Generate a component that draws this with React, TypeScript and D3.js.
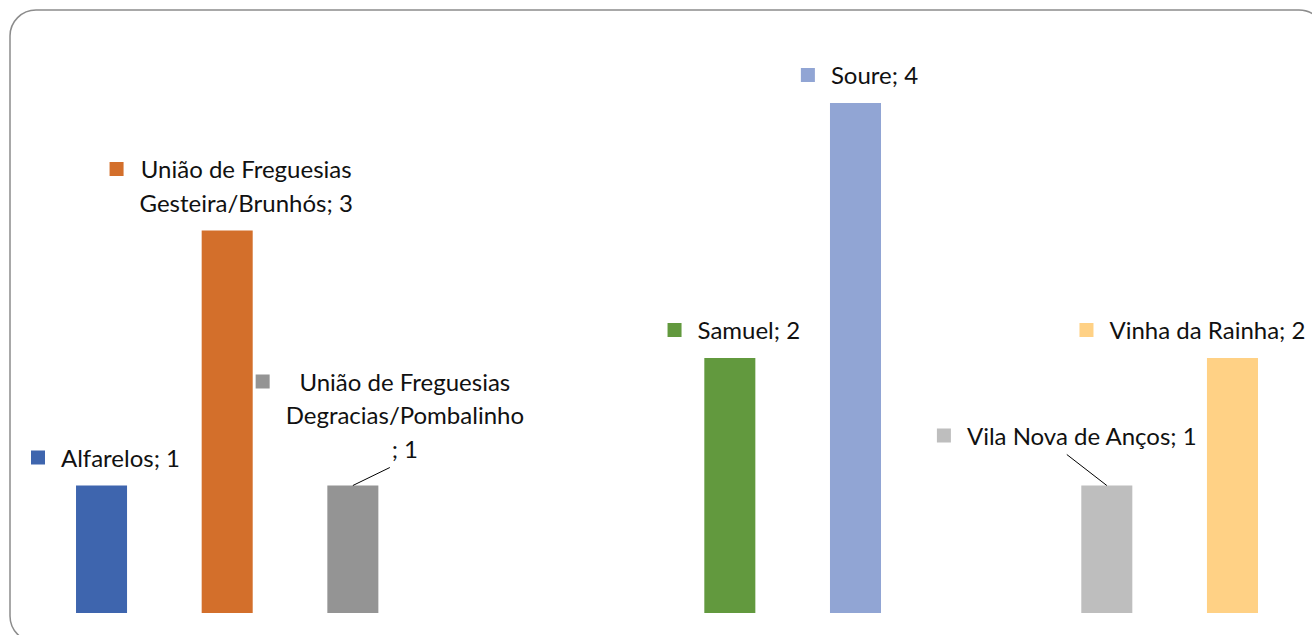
import { useEffect, useRef } from "react";
import * as d3 from "d3";

// chart data (empty slots are categories without a value)
const nameLines: string[][] = [
  ["Alfarelos"],
  ["União de Freguesias", "Gesteira/Brunhós"],
  ["União de Freguesias", "Degracias/Pombalinho", ""],
  [],
  [],
  ["Samuel"],
  ["Soure"],
  [],
  ["Vila Nova de Anços"],
  ["Vinha da Rainha"],
];
const values: (number | null)[] = [1, 3, 1, null, null, 2, 4, null, 1, 2];
const colors = [
  "#3E65AE",
  "#D36F2B",
  "#949494",
  "#cccccc",
  "#cccccc",
  "#62993E",
  "#91A5D4",
  "#cccccc",
  "#BEBEBE",
  "#FFD185",
];

// labels that were moved away from their default spot
const labelNudge: Record<number, { dx: number; dy: number; leader: boolean }> = {
  2: { dx: 33, dy: -9, leader: true },
  8: { dx: -44, dy: -22, leader: true },
  9: { dx: -44, dy: 0, leader: false },
};

const W = 1312;
const H = 635;

export default function App() {
  const ref = useRef<SVGSVGElement>(null);

  useEffect(() => {
    const svg = d3.select(ref.current);
    svg.selectAll("*").remove();

    svg
      .append("rect")
      .attr("x", 10)
      .attr("y", 10)
      .attr("width", 1315)
      .attr("height", 632)
      .attr("rx", 26)
      .attr("fill", "#fff")
      .attr("stroke", "#8c8c8c")
      .attr("stroke-width", 1.5);

    const x = d3
      .scaleBand<number>()
      .domain(d3.range(values.length))
      .range([38.7, 1295.3])
      .paddingInner(0.594)
      .paddingOuter(0.297);
    const y = d3.scaleLinear().domain([0, 4]).range([613, 103]);

    const idx = d3.range(values.length).filter((i) => values[i] != null);

    svg
      .append("g")
      .selectAll("rect")
      .data(idx)
      .enter()
      .append("rect")
      .attr("x", (i) => x(i)!)
      .attr("y", (i) => y(values[i]!))
      .attr("width", x.bandwidth())
      .attr("height", (i) => y(0) - y(values[i]!))
      .attr("fill", (i) => colors[i]);

    const lh = 33.5;
    const gap = 16;
    const key = 14;
    const labels = svg
      .append("g")
      .style("font-family", "Lato, 'Noto Sans', sans-serif")
      .style("font-size", "24px")
      .attr("fill", "#111");

    idx.forEach((i) => {
      const v = values[i]!;
      const lines = nameLines[i].slice();
      const last = lines.length - 1;
      lines[last] = lines[last] ? `${lines[last]}; ${v}` : `; ${v}`;
      const nudge = labelNudge[i] || { dx: 0, dy: 0, leader: false };
      const cxBar = x(i)! + x.bandwidth() / 2;
      const top = y(v);
      const lastBase = top - 19 + nudge.dy;
      const firstBase = lastBase - (lines.length - 1) * lh;
      const cx = cxBar + 4 + nudge.dx;
      const tc = cx + (key + gap) / 2;

      const g = labels.append("g");
      const texts = g
        .selectAll("text")
        .data(lines)
        .enter()
        .append("text")
        .attr("x", tc)
        .attr("y", (_, k) => firstBase + k * lh)
        .attr("text-anchor", "middle")
        .text((d) => d);
      let tw = 0;
      texts.each(function () {
        tw = Math.max(tw, (this as SVGTextElement).getComputedTextLength());
      });
      g.append("rect")
        .attr("x", tc - tw / 2 - gap - key)
        .attr("y", firstBase - 9 - key / 2)
        .attr("width", key)
        .attr("height", key)
        .attr("fill", colors[i]);

      if (nudge.leader) {
        labels
          .append("line")
          .attr("x1", cxBar)
          .attr("y1", top)
          .attr("x2", cx)
          .attr("y2", lastBase + 10)
          .attr("stroke", "#000")
          .attr("stroke-width", 1);
      }
    });
  }, []);

  return (
    <svg
      ref={ref}
      width={W}
      height={H}
      style={{ position: "absolute", left: 0, top: 0, display: "block" }}
    />
  );
}
